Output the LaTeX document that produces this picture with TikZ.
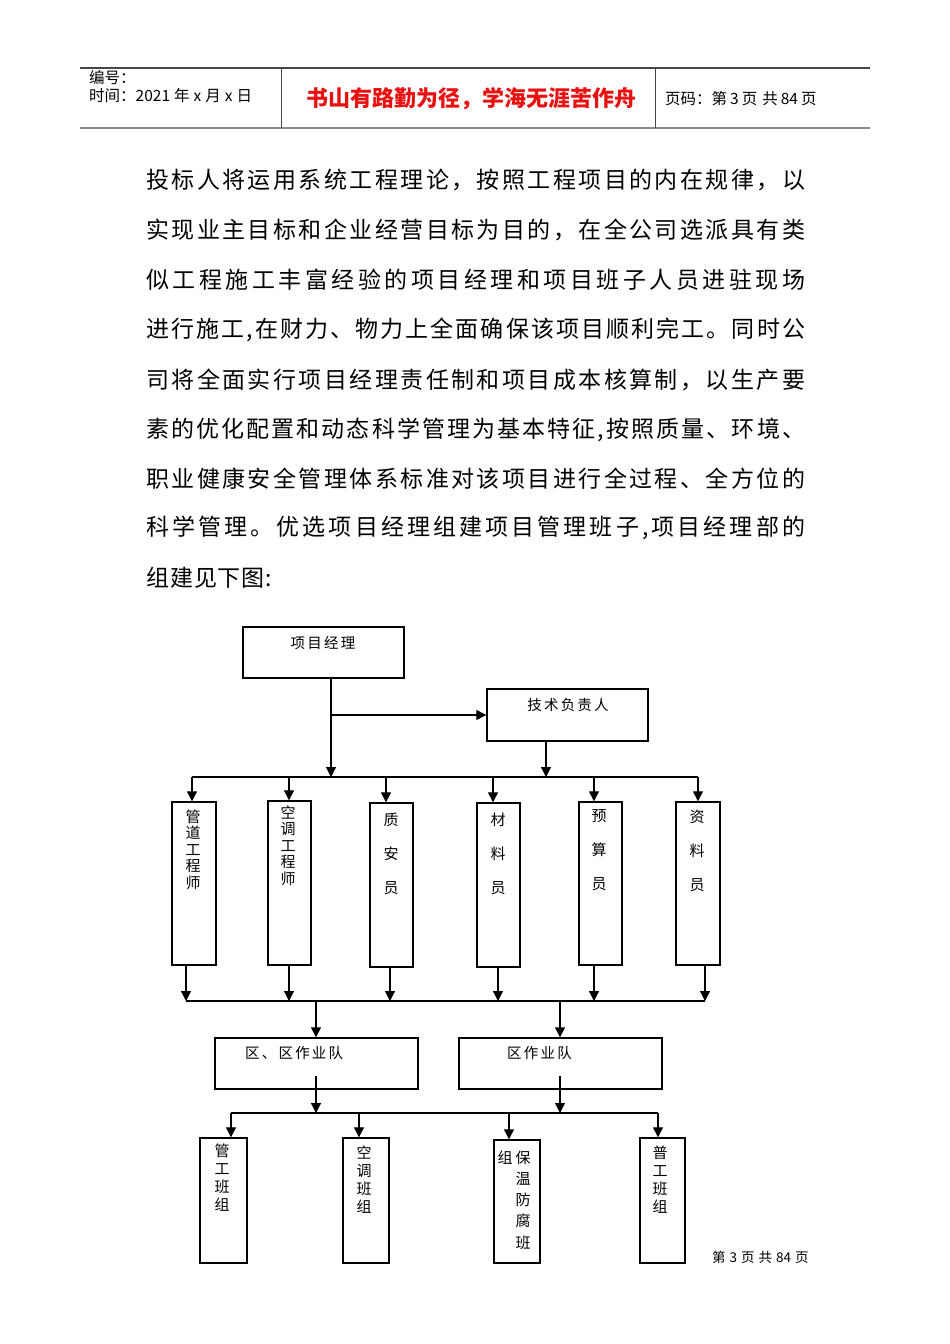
\documentclass[tikz,border=0pt]{standalone}
\usepackage{fontspec}
\setmainfont{Liberation Serif}
\newfontfamily\cjk{Noto Sans CJK SC}
\usetikzlibrary{arrows.meta}
\definecolor{motto}{RGB}{232,16,16}
\definecolor{rule1}{RGB}{70,70,70}
\definecolor{rule2}{RGB}{140,140,140}
\makeatletter
\def\sp@end{}
\newcommand\spreadto[2]{\hbox to #1{\sp@first#2\sp@end}}
\def\sp@first#1{#1\sp@loop}
\def\sp@loop#1{\ifx#1\sp@end\else\hfil#1\expandafter\sp@loop\fi}
\def\ls@k{2.2pt}
\newcommand\lsp[1]{\ls@first#1\sp@end}
\def\ls@first#1{#1\ls@loop}
\def\ls@loop#1{\ifx#1\sp@end\else\kern\ls@k #1\expandafter\ls@loop\fi}
\makeatother
\tikzset{
  box/.style={draw, line width=1.4pt, inner sep=0pt},
  conn/.style={line width=1.2pt, -{Triangle[length=10pt,width=10pt]}},
  busline/.style={line width=1.2pt},
  para/.style={anchor=west, inner sep=0pt, font=\cjk\fontsize{23}{23}\selectfont},
  chart/.style={inner sep=0pt, font=\cjk\fontsize{14.5}{16}\selectfont},
  vt/.style={inner sep=0pt, anchor=north, align=center},
  hdr/.style={anchor=west, inner sep=0pt, font=\cjk\fontsize{15.5}{16}\selectfont},
}
\begin{document}
\begin{tikzpicture}[x=1pt,y=-1pt]
\useasboundingbox[fill=white] (0,0) rectangle (950,1344);
% ---------- header ----------
\draw[rule1, line width=1.1pt] (80,68) -- (870,68);
\draw[rule2, line width=2.2pt] (80,128) -- (870,128);
\draw[rule1, line width=0.9pt] (281,68) -- (281,128);
\draw[rule1, line width=0.9pt] (655,68) -- (655,128);
\node[hdr] (h1) at (89,78) {编号：};
\node[hdr] (h2) at (89,96) {时间：2021\hspace{4pt}年\hspace{4pt}x\hspace{4pt}月\hspace{4pt}x\hspace{4pt}日};
\node[inner sep=0pt, text=motto, font=\cjk\bfseries\fontsize{22}{24}\selectfont] (motto) at (471,99) {书山有路勤为径，学海无涯苦作舟};
\node[hdr] (h3) at (665,99) {页码：第\hspace{3pt}3\hspace{3pt}页\hspace{5pt}共\hspace{3pt}84\hspace{3pt}页};
% ---------- paragraph ----------
\node[para] (p1) at (146,180) {\spreadto{659pt}{投标人将运用系统工程理论，按照工程项目的内在规律，以}};
\node[para] (p2) at (146,230) {\spreadto{659pt}{实现业主目标和企业经营目标为目的，在全公司选派具有类}};
\node[para] (p3) at (146,280) {\spreadto{659pt}{似工程施工丰富经验的项目经理和项目班子人员进驻现场}};
\node[para] (p4) at (146,330) {\spreadto{659pt}{进行施工,在财力、物力上全面确保该项目顺利完工。同时公}};
\node[para] (p5) at (146,380) {\spreadto{659pt}{司将全面实行项目经理责任制和项目成本核算制，以生产要}};
\node[para] (p6) at (146,430) {\spreadto{659pt}{素的优化配置和动态科学管理为基本特征,按照质量、环境、}};
\node[para] (p7) at (146,479) {\spreadto{659pt}{职业健康安全管理体系标准对该项目进行全过程、全方位的}};
\node[para] (p8) at (146,528) {\spreadto{659pt}{科学管理。优选项目经理组建项目管理班子,项目经理部的}};
\node[para] (p9) at (146,578) {\spreadto{126pt}{组建见下图:}};
% ---------- chart boxes ----------
\node[box, minimum width=161pt, minimum height=51pt] (pm) at (323.5,652.5) {};
\node[box, minimum width=161pt, minimum height=52pt] (tech) at (567.5,715) {};
\node[box, minimum width=44pt, minimum height=163pt] (b1) at (194,883.5) {};
\node[box, minimum width=43pt, minimum height=164pt] (b2) at (289.5,883) {};
\node[box, minimum width=43pt, minimum height=164pt] (b3) at (391.5,885) {};
\node[box, minimum width=43pt, minimum height=164pt] (b4) at (498.5,885) {};
\node[box, minimum width=43pt, minimum height=163pt] (b5) at (600.5,883.5) {};
\node[box, minimum width=44pt, minimum height=163pt] (b6) at (698,883.5) {};
\node[box, minimum width=203pt, minimum height=51pt] (q1) at (316.5,1063.5) {};
\node[box, minimum width=203pt, minimum height=51pt] (q2) at (560.5,1063.5) {};
\node[box, minimum width=47pt, minimum height=125pt] (c1) at (223.5,1200.5) {};
\node[box, minimum width=46pt, minimum height=125pt] (c2) at (366,1200.5) {};
\node[box, minimum width=46pt, minimum height=123pt] (c3) at (517,1201.5) {};
\node[box, minimum width=45pt, minimum height=125pt] (c4) at (662.5,1200.5) {};
% ---------- chart texts ----------
\node[chart] (pmt) at (323,643) {\lsp{项目经理}};
\node[chart] (techt) at (568,705) {\lsp{技术负责人}};
\node[chart, anchor=west] (q1t) at (245,1053) {\lsp{区、区作业队}};
\node[chart, anchor=west] (q2t) at (507,1053) {\lsp{区作业队}};
\node[chart, vt, font=\cjk\fontsize{15}{16.5}\selectfont] (b1t) at (193,809.5) {管\\道\\工\\程\\师};
\node[chart, vt, font=\cjk\fontsize{15}{16.5}\selectfont] (b2t) at (288,805.5) {空\\调\\工\\程\\师};
\node[chart, vt, font=\cjk\fontsize{15}{34}\selectfont] (b3t) at (391,812.5) {质\\安\\员};
\node[chart, vt, font=\cjk\fontsize{15}{34}\selectfont] (b4t) at (498,812.5) {材\\料\\员};
\node[chart, vt, font=\cjk\fontsize{15}{34}\selectfont] (b5t) at (599,809.5) {预\\算\\员};
\node[chart, vt, font=\cjk\fontsize{15}{34}\selectfont] (b6t) at (697,809.5) {资\\料\\员};
\node[chart, vt, font=\cjk\fontsize{15}{18}\selectfont] (c1t) at (222,1143.5) {管\\工\\班\\组};
\node[chart, vt, font=\cjk\fontsize{15}{18}\selectfont] (c2t) at (364,1145.5) {空\\调\\班\\组};
\node[chart, vt, font=\cjk\fontsize{15}{21.2}\selectfont] (c3t) at (523,1150.5) {保\\温\\防\\腐\\班};
\node[chart, vt, font=\cjk\fontsize{15}{18}\selectfont] (c3u) at (505,1150.5) {组};
\node[chart, vt, font=\cjk\fontsize{15}{18}\selectfont] (c4t) at (660,1145.5) {普\\工\\班\\组};
% ---------- coordinates ----------
\coordinate (busA) at (0,777);
\coordinate (busB) at (0,1001);
\coordinate (busC) at (0,1113);
\coordinate (qin) at (0,1076);
\coordinate (junc) at (331,715);
\coordinate (tx) at (546,0);
\coordinate (t1) at (192,0); \coordinate (t2) at (289,0); \coordinate (t3) at (386,0);
\coordinate (t4) at (493,0); \coordinate (t5) at (594,0); \coordinate (t6) at (698,0);
\coordinate (u1) at (186,0); \coordinate (u2) at (289,0); \coordinate (u3) at (390,0);
\coordinate (u4) at (498,0); \coordinate (u5) at (594,0); \coordinate (u6) at (705,0);
\coordinate (v1) at (316,0); \coordinate (v2) at (560,0);
\coordinate (w1) at (231,0); \coordinate (w2) at (359,0); \coordinate (w3) at (509,0); \coordinate (w4) at (658,0);
% ---------- connectors ----------
\draw[conn] (pm.south -| junc) -- (junc |- busA);
\draw[conn] (junc) -- (tech.west);
\draw[conn] (tech.south -| tx) -- (tx |- busA);
\draw[busline] (t1 |- busA) -- (t6 |- busA);
\foreach \i in {1,...,6}{
  \draw[conn] (t\i |- busA) -- (t\i |- b\i.north);
  \draw[conn] (u\i |- b\i.south) -- (u\i |- busB);
}
\draw[busline] (u1 |- busB) -- (u6 |- busB);
\draw[conn] (v1 |- busB) -- (v1 |- q1.north);
\draw[conn] (v2 |- busB) -- (v2 |- q2.north);
\draw[conn] (v1 |- qin) -- (v1 |- busC);
\draw[conn] (v2 |- qin) -- (v2 |- busC);
\draw[busline] (w1 |- busC) -- (w4 |- busC);
\foreach \i in {1,...,4}{
  \draw[conn] (w\i |- busC) -- (w\i |- c\i.north);
}
% ---------- footer ----------
\node[anchor=west, inner sep=0pt, font=\cjk\fontsize{13.5}{14}\selectfont] (foot) at (712,1257) {第\hspace{4pt}3\hspace{4pt}页\hspace{4pt}共\hspace{4pt}84\hspace{4pt}页};
\end{tikzpicture}
\end{document}
